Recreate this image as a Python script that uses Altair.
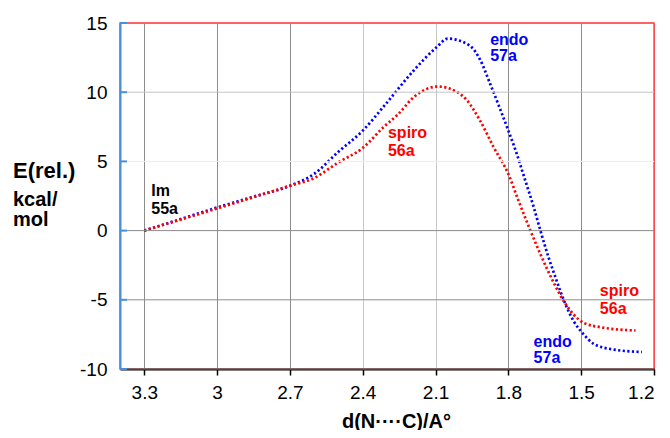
import altair as alt
import pandas as pd

# ---- data ----
endo_x = [3.3, 3.15, 3.0, 2.85, 2.7, 2.6, 2.5, 2.4, 2.31, 2.19, 2.095, 2.05, 1.96, 1.915,
          1.875, 1.8, 1.77, 1.73, 1.695, 1.668, 1.634, 1.603, 1.586, 1.531, 1.489, 1.448, 1.364, 1.25]
endo_y = [0, 0.83, 1.67, 2.45, 3.24, 4.1, 5.7, 7.22, 9.04, 11.57, 13.26, 13.87, 13.38, 12.3,
          10.6, 7.22, 5.78, 3.6, 1.67, 0, -1.96, -3.52, -4.37, -6.54, -7.51, -8.19, -8.6, -8.77]
spiro_x = [3.3, 3.0, 2.7, 2.6, 2.5, 2.4, 2.315, 2.253, 2.19, 2.09, 2.01, 1.97, 1.916, 1.86,
           1.8, 1.758, 1.709, 1.668, 1.62, 1.572, 1.489, 1.42, 1.276]
spiro_y = [0, 1.6, 3.24, 3.8, 4.93, 5.97, 7.46, 8.43, 9.64, 10.41, 10.0, 9.4, 7.93, 6.01,
           4.09, 2.15, 0, -1.7, -3.52, -5.09, -6.67, -6.98, -7.22]
series_names = ["endo", "spiro"]
x_ticks = [3.3, 3.0, 2.7, 2.4, 2.1, 1.8, 1.5, 1.2]
y_ticks = [15, 10, 5, 0, -5, -10]

df = pd.concat([
    pd.DataFrame({"d": endo_x, "E": endo_y, "s": series_names[0]}),
    pd.DataFrame({"d": spiro_x, "E": spiro_y, "s": series_names[1]}),
], ignore_index=True)
tick_values = alt.Data(values=[{"v": v} for v in y_ticks])

FONT = "Liberation Sans"
AX_BLUE = "#4a90d9"
BORDER_RED = "#ff4d4d"
BLUE = "#0000ff"
RED = "#ff0000"

X_LO, X_HI = 3.4, 1.2
xscale = alt.Scale(domain=[X_LO, X_HI], nice=False, zero=False)
yscale = alt.Scale(domain=[-10, 15], nice=False, zero=False)

xaxis = alt.Axis(
    values=x_ticks, labelExpr="datum.value + ''",
    title="d(N\u00b7\u00b7\u00b7\u00b7C)/A\u00b0", titleFont=FONT, titleFontSize=20,
    titleFontWeight="bold", titleColor="black", titleX=276, titleY=58,
    titleAlign="center", titleBaseline="alphabetic",
    labelFont=FONT, labelFontSize=19, labelColor="black", labelPadding=8,
    ticks=True, tickSize=6, tickColor="black", tickWidth=1.5,
    domainColor="black", domainWidth=2,
    grid=True, gridWidth=1,
    gridColor={"condition": [
        {"test": "datum.value == 2.4 || datum.value == 2.1", "value": "#c8c8c8"},
        {"test": "datum.value == 1.2", "value": BORDER_RED}],
        "value": "#8c8c8c"},
)
yaxis = alt.Axis(
    values=y_ticks, labelExpr="datum.value + ''", title=None,
    labelFont=FONT, labelFontSize=19, labelColor="black", labelPadding=13,
    ticks=False, domainColor=AX_BLUE, domainWidth=2, grid=False,
)

# horizontal grid lines spanning the x domain
hgrid = alt.Chart(tick_values).mark_rule(
    strokeWidth=1,
    stroke=alt.expr("datum.v == 5 ? '#ececec' : datum.v == 10 ? '#c4c4c4' : "
                    "datum.v == 15 ? '" + BORDER_RED + "' : '#8c8c8c'"),
).encode(
    x=alt.X(datum=X_LO, scale=xscale),
    x2=alt.X2(datum=X_HI),
    y=alt.Y("v:Q", scale=yscale),
)

lines = alt.Chart(df).mark_line(
    strokeDash=[2.2, 2.4], strokeWidth=2.7, interpolate="monotone"
).encode(
    x=alt.X("d:Q", scale=xscale, axis=xaxis),
    y=alt.Y("E:Q", scale=yscale, axis=yaxis),
    color=alt.Color("s:N", scale=alt.Scale(domain=series_names, range=[BLUE, RED]), legend=None),
)

inner_ticks = alt.Chart(tick_values).mark_rule(
    color=AX_BLUE, strokeWidth=2
).encode(
    x=alt.value(0), x2=alt.value(7), y=alt.Y("v:Q", scale=yscale)
)

one = alt.Data(values=[{}])


def note(x, y, text, color, lh):
    return alt.Chart(one).mark_text(
        text=text, align="left", baseline="alphabetic", font=FONT, fontSize=16,
        fontWeight="bold", color=color, lineHeight=lh
    ).encode(x=alt.X(datum=x, scale=xscale), y=alt.Y(datum=y, scale=yscale))


notes = [
    note(1.875, 13.38, ["endo", "57a"], BLUE, 16),
    note(2.296, 6.70, ["spiro", "56a"], RED, 18),
    note(1.423, -4.73, ["spiro", "56a"], RED, 18),
    note(1.696, -8.43, ["endo", "57a"], BLUE, 16),
    note(3.271, 2.51, ["Im", "55a"], "black", 18),
]

ytitle1 = alt.Chart(one).mark_text(
    text="E(rel.)", align="left", baseline="alphabetic", font=FONT, fontSize=22,
    fontWeight="bold", color="black"
).encode(x=alt.value(-107), y=alt.value(155))
ytitle2 = alt.Chart(one).mark_text(
    text=["kcal/", "mol"], align="left", baseline="alphabetic", font=FONT, fontSize=20,
    fontWeight="bold", color="black", lineHeight=20
).encode(x=alt.value(-107), y=alt.value(183))

chart = alt.layer(lines, hgrid, inner_ticks, *notes, ytitle1, ytitle2).properties(
    width=534, height=346,
    autosize=alt.AutoSizeParams(type="none"),
    padding={"left": 112, "top": 15, "right": 8, "bottom": 61},
).configure_view(stroke=BORDER_RED, strokeWidth=1.5)

chart.save("out.html", embed_options={"renderer": "svg", "actions": False})
